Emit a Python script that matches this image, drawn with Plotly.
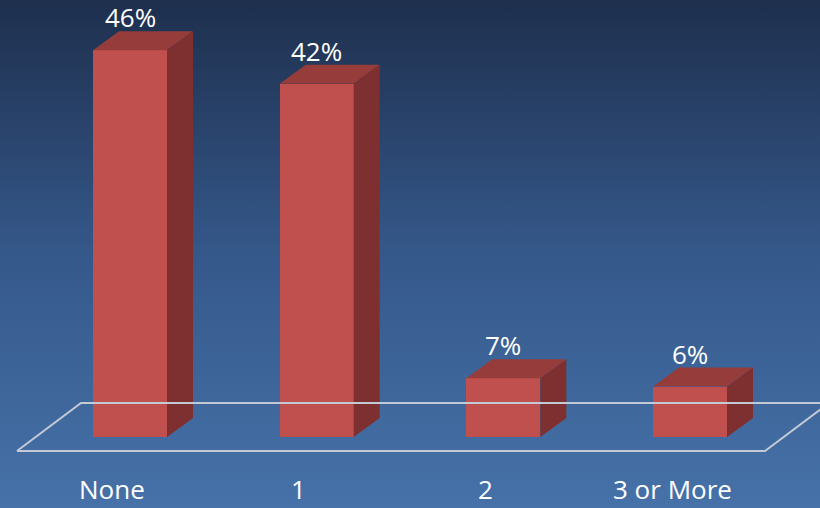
import base64
import plotly.graph_objects as go

categories = ["None", "1", "2", "3 or More"]
values = [46, 42, 7, 6]
value_labels = ["46%", "42%", "7%", "6%"]

W, H = 820, 508
# axis mapping (pixels -> data)
px_per_cat = 186.67
px_per_pct = 8.41
x0_px = 130.0
y0_px = 437.0
xr = [(0 - x0_px) / px_per_cat, (W - x0_px) / px_per_cat]
yr = [-(H - y0_px) / px_per_pct, y0_px / px_per_pct]

bar_w = 74 / px_per_cat
ddx = 26 / px_per_cat
ddy = 19 / px_per_pct

front_c = "#c0504d"
top_c = "#963d3b"
side_c = "#7d302f"

fig = go.Figure()

# background gradient via SVG image
svg = f'''<svg xmlns="http://www.w3.org/2000/svg" width="{W}" height="{H}">
<defs><linearGradient id="g" x1="0" y1="0" x2="0" y2="1">
<stop offset="0" stop-color="#1e2f4d"/>
<stop offset="0.5" stop-color="#35588a"/>
<stop offset="1" stop-color="#4672a9"/>
</linearGradient></defs>
<rect width="{W}" height="{H}" fill="url(#g)"/></svg>'''
src = "data:image/svg+xml;base64," + base64.b64encode(svg.encode()).decode()

# floor parallelogram (paper coords)
def P(xp, yp):
    return xp / W, 1 - yp / H
floor_pts = [P(17, 451), P(765, 451), P(829, 403), P(81, 403), P(17, 451)]
fig.add_trace(go.Scatter(
    x=[p[0] for p in floor_pts], y=[p[1] for p in floor_pts],
    xaxis="x2", yaxis="y2", mode="lines",
    line=dict(color="#c3cad6", width=2), hoverinfo="skip", showlegend=False))

xs = list(range(len(categories)))

# front faces
fig.add_trace(go.Bar(x=xs, y=values, width=bar_w, marker=dict(color=front_c, line=dict(width=0)),
                     showlegend=False, hoverinfo="skip"))

# top and side faces
for i, v in zip(xs, values):
    l, r = i - bar_w / 2, i + bar_w / 2
    fig.add_trace(go.Scatter(
        x=[l, r, r + ddx, l + ddx, l], y=[v, v, v + ddy, v + ddy, v],
        fill="toself", fillcolor=top_c, mode="lines", line=dict(width=0, color=top_c),
        hoverinfo="skip", showlegend=False))
    fig.add_trace(go.Scatter(
        x=[r, r + ddx, r + ddx, r, r], y=[0, ddy, v + ddy, v, 0],
        fill="toself", fillcolor=side_c, mode="lines", line=dict(width=0, color=side_c),
        hoverinfo="skip", showlegend=False))

annotations = []
for i, v, lab in zip(xs, values, value_labels):
    annotations.append(dict(x=i, y=v + ddy, text=lab, showarrow=False, yanchor="bottom",
                            yshift=-6, font=dict(family="Open Sans", size=26, color="white")))
for i, c in zip(xs, categories):
    annotations.append(dict(x=i - 18 / px_per_cat, y=-(489 - y0_px) / px_per_pct, text=c,
                            showarrow=False, yanchor="middle",
                            font=dict(family="Open Sans", size=26, color="white")))

fig.update_layout(
    width=W, height=H, margin=dict(l=0, r=0, t=0, b=0),
    paper_bgcolor="#35588a", plot_bgcolor="rgba(0,0,0,0)",
    xaxis=dict(range=xr, visible=False, fixedrange=True),
    yaxis=dict(range=yr, visible=False, fixedrange=True),
    xaxis2=dict(range=[0, 1], visible=False, overlaying="x"),
    yaxis2=dict(range=[0, 1], visible=False, overlaying="y"),
    images=[dict(source=src, xref="paper", yref="paper", x=0, y=1, sizex=1, sizey=1,
                 sizing="stretch", layer="below", xanchor="left", yanchor="top")],
    annotations=annotations,
    bargap=0,
)

fig.write_html("out.html")
